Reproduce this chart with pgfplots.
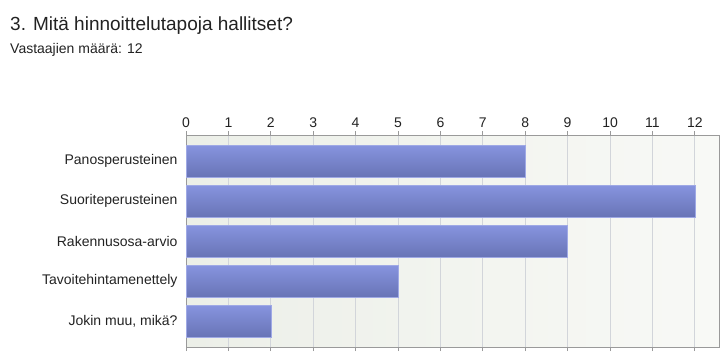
\documentclass[border=0pt]{standalone}
\usepackage{pgfplots}
\pgfplotsset{compat=1.18}
\usepackage{fontspec}
\setmainfont{Liberation Sans}
\definecolor{bartop}{HTML}{8794DF}
\definecolor{barbot}{HTML}{6874B6}
\definecolor{bgl}{HTML}{ECEFE8}
\definecolor{bgr}{HTML}{F8F9F6}
\definecolor{gridc}{HTML}{D2D5DA}
\definecolor{axc}{HTML}{9A9A9A}
\definecolor{txt}{HTML}{222222}
\tikzset{mybar/.style={draw=bartop!80!white, line width=0.5bp, top color=bartop, bottom color=barbot, bar shift=0pt}}
\begin{document}
\begin{tikzpicture}[x=1bp,y=1bp]
\path[use as bounding box] (0,0) rectangle (728,-357);
\node[anchor=base west,inner sep=0pt,text=txt,font=\fontsize{19bp}{22bp}\selectfont] at (10,-30) {3. Mitä hinnoittelutapoja hallitset?};
\node[anchor=base west,inner sep=0pt,text=txt,font=\fontsize{14bp}{16bp}\selectfont] at (10,-53) {Vastaajien määrä: 12};
\begin{axis}[
  at={(186bp,-347bp)}, anchor=south west,
  scale only axis, width=533bp, height=212bp,
  xmin=0, xmax=12.57, ymin=-0.65, ymax=4.65,
  y dir=reverse,
  xtick={0,...,12},
  xticklabel pos=upper,
  xmajorgrids, major grid style={gridc, line width=0.8bp},
  ytick={0,1,2,3,4},
  yticklabels={Panosperusteinen,Suoriteperusteinen,Rakennusosa-arvio,Tavoitehintamenettely,{Jokin muu, mikä?}},
  major y tick style={draw=none},
  major x tick style={axc, line width=0.8bp},
  tick align=outside, major tick length=4bp,
  axis line style={axc, line width=1bp},
  axis background/.style={left color=bgl, right color=bgr},
  tick label style={font=\fontsize{14bp}{16bp}\selectfont, text=txt},
  yticklabel style={xshift=-1bp},
  /pgf/number format/assume math mode=true,
  xbar, bar width=32bp,
]
\addplot[mybar] coordinates {(8,0)};
\addplot[mybar] coordinates {(12,1)};
\addplot[mybar] coordinates {(9,2)};
\addplot[mybar] coordinates {(5,3)};
\addplot[mybar] coordinates {(2,4)};
\end{axis}
\end{tikzpicture}
\end{document}
